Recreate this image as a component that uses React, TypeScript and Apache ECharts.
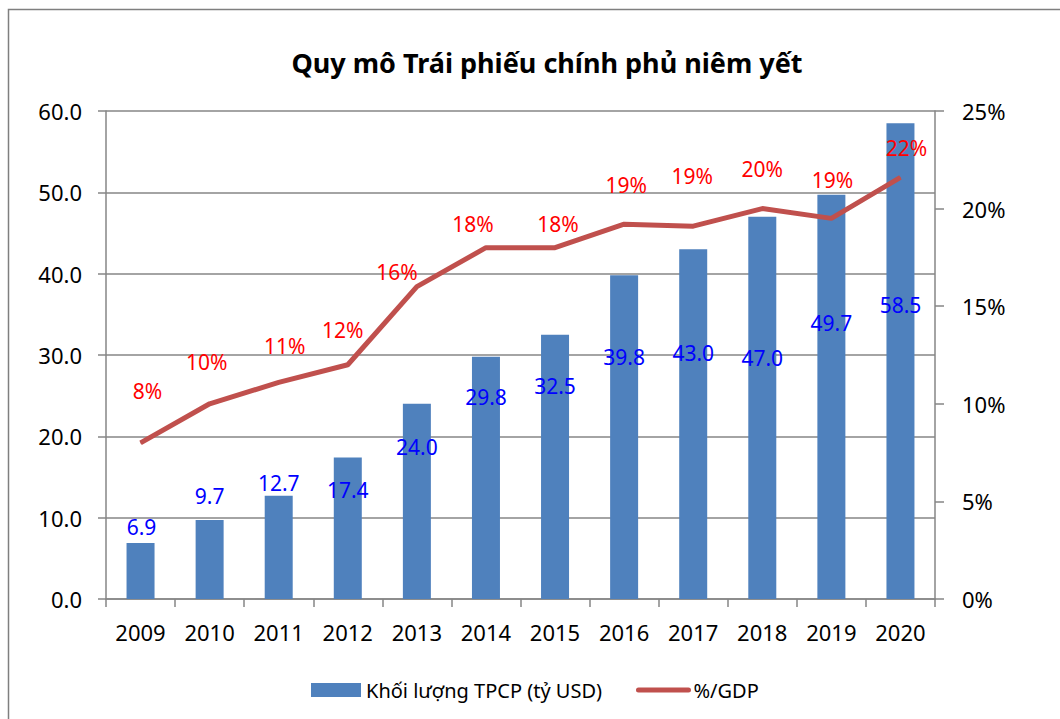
import React, { useEffect, useRef } from "react";
import * as echarts from "echarts";

const years = ["2009", "2010", "2011", "2012", "2013", "2014", "2015", "2016", "2017", "2018", "2019", "2020"];
const volume = [6.9, 9.7, 12.7, 17.4, 24.0, 29.8, 32.5, 39.8, 43.0, 47.0, 49.7, 58.5];
const gdpPct = [8.0, 10.0, 11.1, 12.0, 16.0, 18.0, 18.0, 19.2, 19.1, 20.0, 19.5, 21.6];
const gdpLabels = ["8%", "10%", "11%", "12%", "16%", "18%", "18%", "19%", "19%", "20%", "19%", "22%"];
const leftTicks = { min: 0, max: 60, interval: 10 };
const rightTicks = { min: 0, max: 25, interval: 5 };

const TITLE = "Quy mô Trái phiếu chính phủ niêm yết";
const BAR_NAME = "Khối lượng TPCP (tỷ USD)";
const LINE_NAME = "%/GDP";

// label placement tweaks (style only)
const barLabelShift: [number, number][] = [
  [1, -5], [0, -13], [0, -2], [0, 44], [0, 54], [0, 51], [0, 62], [0, 93], [0, 115], [0, 152], [0, 139], [0, 193],
];
const lineLabelShift: [number, number][] = [
  [7, -40], [-3, -30], [6, -25], [-5, -23], [-20, -3], [-13, -12], [3, -12], [2, -28], [-1, -39], [0, -28], [1, -27], [6, -18],
];

const FONT = "'Noto Sans', 'DejaVu Sans', sans-serif";
const GRID_COLOR = "#868686";

export default function App() {
  const ref = useRef<HTMLDivElement>(null);
  useEffect(() => {
    if (!ref.current) return;
    const chart = echarts.init(ref.current, undefined, { renderer: "svg" });
    const option: any = {
      animation: false,
      backgroundColor: "#ffffff",
      textStyle: { fontFamily: FONT },
      title: {
        text: TITLE,
        left: 542,
        top: 40,
        textAlign: "center",
        textStyle: { fontFamily: FONT, fontSize: 27, fontWeight: "bold", color: "#000", lineHeight: 34 },
      },
      graphic: [
        {
          type: "rect",
          shape: { x: 8.5, y: 9.5, width: 1100, height: 800 },
          style: { fill: "none", stroke: "#7f7f7f", lineWidth: 1.5 },
          silent: true,
          z: 100,
        },
      ],
      grid: { left: 106, right: 125, top: 111, bottom: 120, containLabel: false },
      legend: {
        left: 306,
        top: 675,
        itemWidth: 50,
        itemHeight: 14,
        itemGap: 34,
        textStyle: { fontFamily: FONT, fontSize: 20, color: "#000" },
        data: [
          { name: BAR_NAME, icon: "rect" },
          { name: LINE_NAME, itemStyle: { opacity: 0 }, lineStyle: { width: 5, cap: "round", color: "#C0504D" } },
        ],
      },
      xAxis: {
        type: "category",
        data: years,
        boundaryGap: true,
        axisLine: { show: true, lineStyle: { color: GRID_COLOR, width: 1.5 } },
        axisTick: { show: true, length: 8, lineStyle: { color: GRID_COLOR, width: 1.5 } },
        axisLabel: { fontFamily: FONT, fontSize: 22, color: "#000", margin: 22 },
      },
      yAxis: [
        {
          type: "value",
          min: leftTicks.min,
          max: leftTicks.max,
          interval: leftTicks.interval,
          axisLine: { show: true, lineStyle: { color: GRID_COLOR, width: 1.5 } },
          axisTick: { show: true, length: 8, lineStyle: { color: GRID_COLOR, width: 1.5 } },
          splitLine: { show: true, lineStyle: { color: GRID_COLOR, width: 1.5 } },
          axisLabel: {
            fontFamily: FONT,
            fontSize: 22,
            color: "#000",
            margin: 24,
            formatter: (v: number) => v.toFixed(1),
          },
        },
        {
          type: "value",
          position: "right",
          min: rightTicks.min,
          max: rightTicks.max,
          interval: rightTicks.interval,
          axisLine: { show: true, lineStyle: { color: GRID_COLOR, width: 1.5 } },
          axisTick: { show: true, length: 9, lineStyle: { color: GRID_COLOR, width: 1.5 } },
          splitLine: { show: false },
          axisLabel: {
            fontFamily: FONT,
            fontSize: 22,
            color: "#000",
            margin: 27,
            formatter: (v: number) => `${v}%`,
          },
        },
      ],
      series: [
        {
          name: BAR_NAME,
          type: "bar",
          yAxisIndex: 0,
          barWidth: 28,
          itemStyle: { color: "#4F81BD" },
          data: volume.map((v, i) => ({
            value: v,
            label: {
              show: true,
              position: "top",
              distance: 0,
              offset: barLabelShift[i],
              color: "#0000FF",
              fontFamily: FONT,
              fontSize: 21,
              lineHeight: 22,
              formatter: (p: any) => Number(p.value).toFixed(1),
            },
          })),
          z: 2,
        },
        {
          name: LINE_NAME,
          type: "line",
          yAxisIndex: 1,
          symbol: "circle",
          symbolSize: 1,
          showSymbol: true,
          lineStyle: { color: "#C0504D", width: 5 },
          itemStyle: { color: "#C0504D" },
          data: gdpPct.map((v, i) => ({
            value: v,
            label: {
              show: true,
              position: "top",
              distance: 0,
              offset: lineLabelShift[i],
              color: "#FF0000",
              fontFamily: FONT,
              fontSize: 21,
              lineHeight: 22,
              formatter: () => gdpLabels[i],
            },
          })),
          z: 3,
        },
      ],
    };
    chart.setOption(option);
    return () => chart.dispose();
  }, []);
  return (
    <div
      ref={ref}
      style={{ position: "fixed", left: 0, top: 0, width: 1060, height: 719, background: "#fff" }}
    />
  );
}
